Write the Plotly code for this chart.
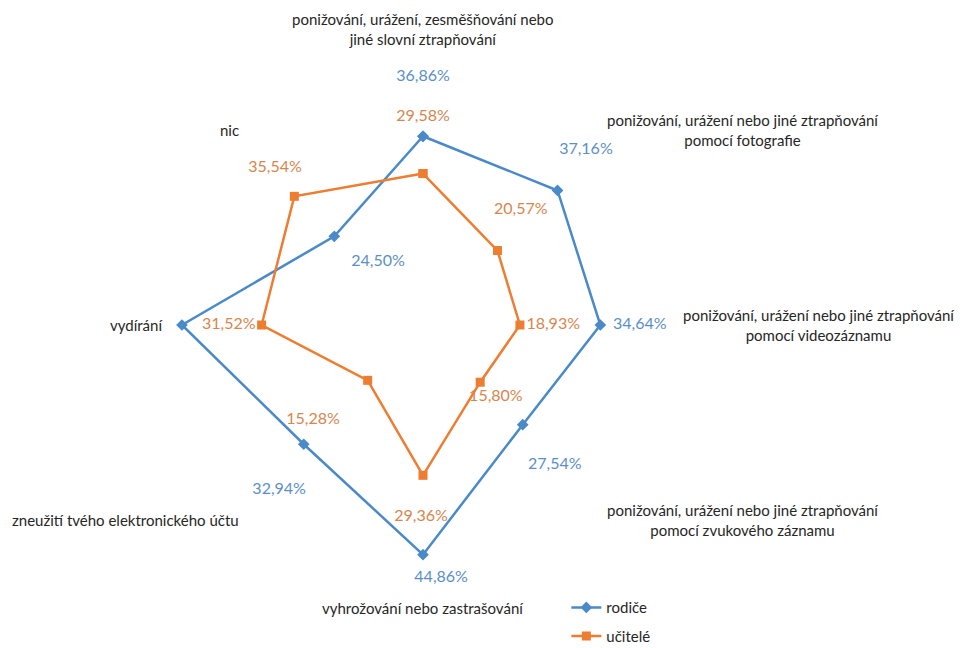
import math
import plotly.graph_objects as go

categories = [
    "ponižování, urážení, zesměšňování nebo<br>jiné slovní ztrapňování",
    "ponižování, urážení nebo jiné ztrapňování<br>pomocí fotografie",
    "ponižování, urážení nebo jiné ztrapňování<br>pomocí videozáznamu",
    "ponižování, urážení nebo jiné ztrapňování<br>pomocí zvukového záznamu",
    "vyhrožování nebo zastrašování",
    "zneužití tvého elektronického účtu",
    "vydírání",
    "nic",
]
rodice = [36.86, 37.16, 34.64, 27.54, 44.86, 32.94, 47.08, 24.50]
ucitele = [29.58, 20.57, 18.93, 15.80, 29.36, 15.28, 31.52, 35.54]

# label placement offsets (style): radial offset in % units, angular offset in degrees
rod_dr = [11.6, 9.5, 7.7, 10.0, 4.7, 9.8, 3.5, -9.4]
rod_dth = [0, -2, 0, 1.7, -4.1, -3.9, 7.3, 9.5]
uci_dr = [11.0, 8.9, 6.5, 4.2, 8.1, 13.1, 6.4, 6.6]
uci_dth = [0, -4.6, 0, -0.4, 0.6, 4.2, 0, 1.7]

angles = [i * 360 / len(categories) for i in range(len(categories))]

W, H = 966, 648
CX, CY, RAD = 415, 317, 256      # polar centre / radius in figure pixels (from top-left)
LABEL_R = 258                    # category label distance from centre (px)
GAP_TOP, GAP_BOTTOM = 17, 14     # extra gap for top / bottom labels
GAP_DIAG = 13                    # vertical push for diagonal labels

BLUE = "#4A8AC9"
ORANGE = "#ED7D31"
BLUE_TXT = "#5B8FC8"
ORANGE_TXT = "#D7864E"
FONT = "Lato"


def fmt(v):
    return f"{v:.2f}%".replace(".", ",")


fig = go.Figure()
fig.add_trace(go.Scatterpolar(
    r=rodice + rodice[:1], theta=angles + angles[:1], mode="lines+markers",
    name="rodiče", legendgroup="a", line=dict(color=BLUE, width=2.5),
    marker=dict(symbol="diamond", size=9, color=BLUE),
))
fig.add_trace(go.Scatterpolar(
    r=ucitele + ucitele[:1], theta=angles + angles[:1], mode="lines+markers",
    name="učitelé", legendgroup="b", line=dict(color=ORANGE, width=2.5),
    marker=dict(symbol="square", size=9, color=ORANGE),
))
fig.add_trace(go.Scatterpolar(
    r=[v + d for v, d in zip(rodice, rod_dr)],
    theta=[a + d for a, d in zip(angles, rod_dth)],
    mode="text", text=[fmt(v) for v in rodice], showlegend=False,
    textfont=dict(color=BLUE_TXT, size=16, family=FONT), hoverinfo="skip",
))
fig.add_trace(go.Scatterpolar(
    r=[v + d for v, d in zip(ucitele, uci_dr)],
    theta=[a + d for a, d in zip(angles, uci_dth)],
    mode="text", text=[fmt(v) for v in ucitele], showlegend=False,
    textfont=dict(color=ORANGE_TXT, size=16, family=FONT), hoverinfo="skip",
))

# category labels around the chart
annotations = []
for cat, a in zip(categories, angles):
    s, c = math.sin(math.radians(a)), math.cos(math.radians(a))
    px = CX + LABEL_R * s
    py = CY - LABEL_R * c
    if abs(s) < 0.01:
        xa = "center"
        ya = "bottom" if c > 0 else "top"
        py += -GAP_TOP if c > 0 else GAP_BOTTOM
    else:
        xa = "left" if s > 0 else "right"
        ya = "middle"
        if abs(c) > 0.01:
            py += -GAP_DIAG if c > 0 else GAP_DIAG
    annotations.append(dict(
        text=cat, x=px / W, y=1 - py / H, xref="paper", yref="paper",
        xanchor=xa, yanchor=ya, align="center", showarrow=False,
        font=dict(size=15, color="#262626", family=FONT),
    ))

fig.update_layout(
    width=W, height=H,
    margin=dict(l=0, r=0, t=0, b=0),
    paper_bgcolor="white", plot_bgcolor="white",
    font=dict(family=FONT, size=15, color="#262626"),
    polar=dict(
        domain=dict(x=[(CX - RAD) / W, (CX + RAD) / W],
                    y=[1 - (CY + RAD) / H, 1 - (CY - RAD) / H]),
        bgcolor="white",
        radialaxis=dict(visible=False, range=[0, 50]),
        angularaxis=dict(
            direction="clockwise", rotation=90, thetaunit="degrees",
            tickmode="array", tickvals=angles, showticklabels=False,
            showgrid=False, showline=False, ticks="",
        ),
    ),
    annotations=annotations,
    legend=dict(x=0.578, y=0.1, xanchor="left", yanchor="top",
                traceorder="grouped", tracegroupgap=6,
                font=dict(size=15, family=FONT), bgcolor="rgba(0,0,0,0)"),
)

fig.write_html("out.html")
